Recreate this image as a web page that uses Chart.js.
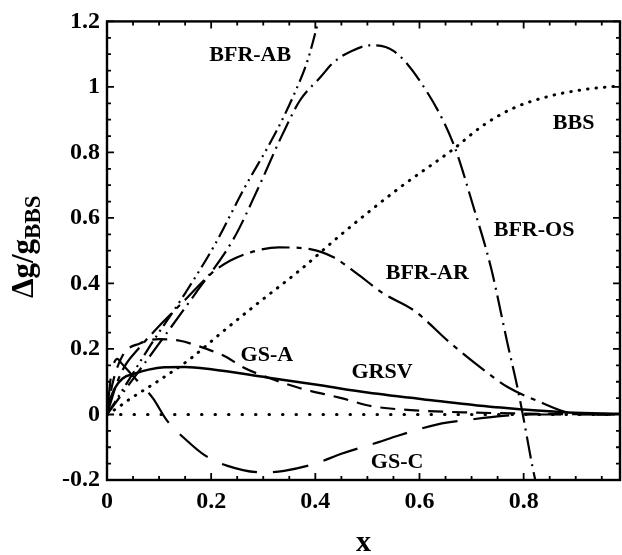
<!DOCTYPE html>
<html>
<head>
<meta charset="utf-8">
<script src="https://cdn.jsdelivr.net/npm/chart.js@4/dist/chart.umd.min.js"></script>
<style>
html,body{margin:0;padding:0;background:#fff;}
#wrap{width:622px;height:555px;position:relative;}
</style>
</head>
<body>
<div id="wrap"><canvas id="c"></canvas></div>
<script>
// ---- data ----
const xTicks = [0, 0.2, 0.4, 0.6, 0.8];
const yTicks = [-0.2, 0, 0.2, 0.4, 0.6, 0.8, 1, 1.2];

const bbsX = [0, 0.02, 0.04, 0.1, 0.16, 0.22, 0.29, 0.37, 0.45, 0.56, 0.665, 0.72, 0.78, 0.85, 0.92, 0.985];
const bbsY = [0, 0.02, 0.043, 0.104, 0.17, 0.25, 0.34, 0.44, 0.55, 0.69, 0.81, 0.88, 0.935, 0.972, 0.993, 1.003];

const zeroX = [0, 0.985];
const zeroY = [0, 0];

const grsvX = [0, 0.005, 0.015, 0.03, 0.054, 0.08, 0.11, 0.15, 0.2, 0.307, 0.41, 0.5, 0.627, 0.756, 0.885, 0.985];
const grsvY = [0, 0.04, 0.08, 0.11, 0.125, 0.137, 0.144, 0.145, 0.138, 0.113, 0.089, 0.067, 0.043, 0.021, 0.006, 0.002];

const gsaX = [0, 0.01, 0.03, 0.063, 0.1, 0.14, 0.173, 0.2, 0.23, 0.26, 0.3, 0.365, 0.45, 0.51, 0.6, 0.7, 0.8, 0.9, 0.985];
const gsaY = [0, 0.09, 0.18, 0.217, 0.23, 0.225, 0.21, 0.195, 0.175, 0.145, 0.118, 0.083, 0.05, 0.025, 0.012, 0.006, 0.003, 0.001, 0];

const gscX = [0, 0.008, 0.02, 0.028, 0.06, 0.088, 0.115, 0.15, 0.188, 0.23, 0.3, 0.34, 0.4, 0.45, 0.52, 0.56, 0.635, 0.7, 0.76, 0.82, 0.9, 0.985];
const gscY = [0, 0.12, 0.17, 0.156, 0.1, 0.05, -0.018, -0.075, -0.125, -0.156, -0.177, -0.172, -0.15, -0.12, -0.085, -0.064, -0.03, -0.015, -0.004, 0, 0, 0];

const arX = [0, 0.02, 0.035, 0.06, 0.1, 0.15, 0.2, 0.237, 0.28, 0.33, 0.39, 0.435, 0.48, 0.53, 0.589, 0.66, 0.72, 0.77, 0.833, 0.885, 0.93, 0.985];
const arY = [0, 0.1, 0.15, 0.2, 0.27, 0.35, 0.43, 0.47, 0.497, 0.51, 0.505, 0.48, 0.43, 0.37, 0.318, 0.217, 0.14, 0.083, 0.037, 0.006, 0.001, 0];

const abX = [0, 0.03, 0.083, 0.15, 0.208, 0.26, 0.326, 0.36, 0.385, 0.404, 0.41];
const abY = [0, 0.075, 0.21, 0.37, 0.521, 0.68, 0.867, 0.98, 1.08, 1.19, 1.23];

const osX = [0, 0.03, 0.097, 0.17, 0.243, 0.29, 0.336, 0.371, 0.41, 0.435, 0.47, 0.506, 0.55, 0.6, 0.665, 0.704, 0.737, 0.769, 0.788, 0.798, 0.817, 0.825];
const osY = [0, 0.065, 0.21, 0.37, 0.536, 0.69, 0.852, 0.96, 1.03, 1.075, 1.11, 1.127, 1.11, 1.02, 0.827, 0.632, 0.45, 0.217, 0.083, 0.003, -0.16, -0.22];

const seriesNames = ['BBS', '', 'GRSV', 'GS-A', 'GS-C', 'BFR-AR', 'BFR-AB', 'BFR-OS'];

// ---- build ----
const pts = (xs, ys) => xs.map((v, i) => ({x: v, y: ys[i]}));
const FONT = '"Liberation Serif", "Times New Roman", serif';

function ds(label, xs, ys, dash, width, cap) {
  return {
    label, data: pts(xs, ys), borderColor: '#000', backgroundColor: '#000',
    borderWidth: width, borderDash: dash, borderCapStyle: cap || 'butt',
    pointRadius: 0, fill: false, cubicInterpolationMode: 'monotone'
  };
}

const datasets = [
  ds(seriesNames[0], bbsX, bbsY, [0.5, 8], 3, 'round'),
  ds(seriesNames[1], zeroX, zeroY, [0.5, 13], 3, 'round'),
  ds(seriesNames[2], grsvX, grsvY, [], 2.5),
  ds(seriesNames[3], gsaX, gsaY, [15, 9], 2.2),
  ds(seriesNames[4], gscX, gscY, [36, 16], 2.2),
  ds(seriesNames[5], arX, arY, [28, 7, 5, 7], 2.2),
  ds(seriesNames[6], abX, abY, [16, 5, 2, 5, 2, 5], 2.2),
  ds(seriesNames[7], osX, osY, [22, 6, 2, 6], 2.2)
];

const curveLabels = [
  {t: 'BFR-AB', x: 0.275, y: 1.096},
  {t: 'BBS', x: 0.896, y: 0.888},
  {t: 'BFR-OS', x: 0.82, y: 0.562},
  {t: 'BFR-AR', x: 0.615, y: 0.43},
  {t: 'GS-A', x: 0.307, y: 0.18},
  {t: 'GRSV', x: 0.528, y: 0.128},
  {t: 'GS-C', x: 0.557, y: -0.147}
];

const framePlugin = {
  id: 'frame',
  beforeDraw(chart) {
    const c = chart.ctx;
    c.save(); c.fillStyle = '#fff'; c.fillRect(0, 0, chart.width, chart.height); c.restore();
  },
  afterDraw(chart) {
    const c = chart.ctx;
    const {left, right, top, bottom} = chart.chartArea;
    const sx = chart.scales.x, sy = chart.scales.y;
    c.save();
    c.strokeStyle = '#000';
    c.lineWidth = 2.4;
    c.strokeRect(left, top, right - left, bottom - top);
    c.lineWidth = 1.8;
    for (let i = 0; i * 0.05 <= sx.max + 1e-9; i++) {
      const v = i * 0.05;
      const p = sx.getPixelForValue(v);
      const L = (i % 4 === 0) ? 7 : 4;
      c.beginPath();
      c.moveTo(p, bottom); c.lineTo(p, bottom - L);
      c.moveTo(p, top); c.lineTo(p, top + L);
      c.stroke();
    }
    for (let i = -4; i * 0.05 <= sy.max + 1e-9; i++) {
      const v = i * 0.05;
      const p = sy.getPixelForValue(v);
      const L = (i % 4 === 0) ? 7 : 4;
      c.beginPath();
      c.moveTo(left, p); c.lineTo(left + L, p);
      c.moveTo(right, p); c.lineTo(right - L, p);
      c.stroke();
    }
    // curve labels
    c.fillStyle = '#000';
    c.font = 'bold 22px ' + FONT;
    c.textAlign = 'center';
    c.textBaseline = 'middle';
    curveLabels.forEach(l => c.fillText(l.t, sx.getPixelForValue(l.x), sy.getPixelForValue(l.y)));
    // y axis title: Δg/g_BBS
    const cy = (top + bottom) / 2 - 4;
    c.translate(25, cy);
    c.rotate(-Math.PI / 2);
    c.textAlign = 'left';
    c.textBaseline = 'alphabetic';
    const main = 'Δg/g', sub = 'BBS';
    c.font = 'bold 31px ' + FONT;
    const w1 = c.measureText(main).width;
    c.font = 'bold 23px ' + FONT;
    const w2 = c.measureText(sub).width;
    const x0 = -(w1 + w2) / 2;
    c.font = 'bold 31px ' + FONT;
    c.fillText(main, x0, 8);
    c.font = 'bold 23px ' + FONT;
    c.fillText(sub, x0 + w1, 15);
    c.restore();
  }
};

new Chart(document.getElementById('c'), {
  type: 'line',
  data: {datasets},
  options: {
    responsive: true, maintainAspectRatio: false, animation: false,
    layout: {padding: {left: 0, top: 21, right: 2, bottom: 0}},
    plugins: {legend: {display: false}, tooltip: {enabled: false}},
    scales: {
      x: {
        type: 'linear', min: 0, max: 0.985,
        grid: {display: false, drawTicks: false},
        border: {display: false},
        afterBuildTicks: s => { s.ticks = xTicks.map(v => ({value: v})); },
        afterFit: s => { s.height = 75; },
        ticks: {
          color: '#000', padding: 7, maxRotation: 0,
          font: {family: FONT, size: 24, weight: 'bold'},
          callback: v => String(+(+v).toFixed(1))
        },
        title: {display: true, text: 'x', color: '#000', padding: {top: 0, bottom: 0},
                font: {family: FONT, size: 30, weight: 'bold', lineHeight: 0.8}}
      },
      y: {
        type: 'linear', min: -0.2, max: 1.2,
        grid: {display: false, drawTicks: false},
        border: {display: false},
        afterBuildTicks: s => { s.ticks = yTicks.map(v => ({value: v})); },
        afterFit: s => { s.width = 107; },
        ticks: {
          color: '#000', padding: 7,
          font: {family: FONT, size: 24, weight: 'bold'},
          callback: v => String(+(+v).toFixed(1))
        }
      }
    }
  },
  plugins: [framePlugin]
});
</script>
</body>
</html>
